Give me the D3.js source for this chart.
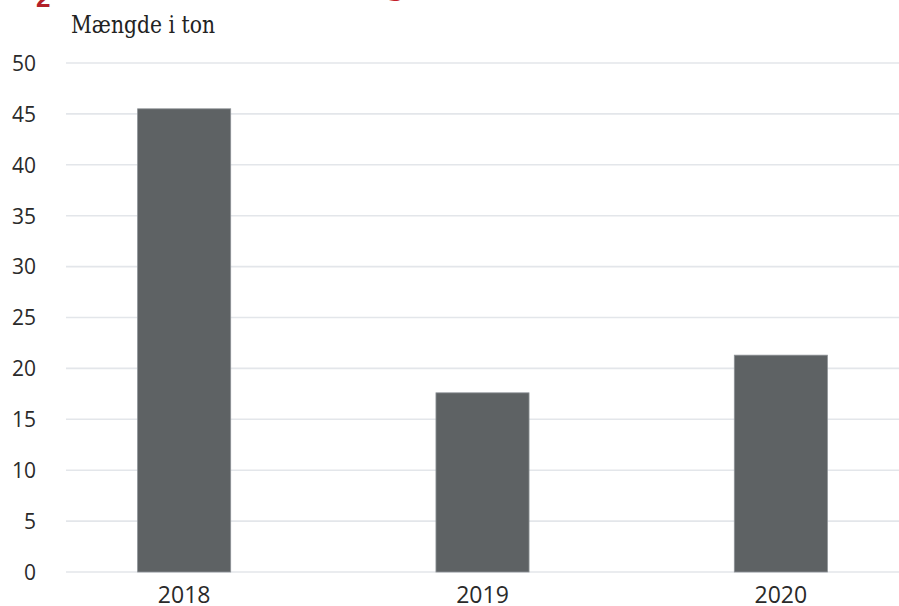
<!DOCTYPE html>
<html>
<head>
<meta charset="utf-8">
<script src="https://cdn.jsdelivr.net/npm/d3@7/dist/d3.min.js"></script>
<style>
  html, body { margin: 0; padding: 0; background: #ffffff; }
  svg { display: block; }
</style>
</head>
<body>
<svg id="chart" width="899" height="606"></svg>
<script>
// Tonnage per year
const years = ["2018", "2019", "2020"];
const tonnes = [45.5, 17.6, 21.3];
const yTicks = [0, 5, 10, 15, 20, 25, 30, 35, 40, 45, 50];

const width = 899, height = 606;
const plot = { left: 66, right: 899, top: 63, bottom: 572 };

const svg = d3.select("#chart");

const x = d3.scaleBand()
  .domain(years)
  .range([plot.left, plot.right])
  .paddingInner(0.688)
  .paddingOuter(0.24);

const y = d3.scaleLinear()
  .domain([0, 50])
  .range([plot.bottom, plot.top]);

// Heading fragments running off the top edge
svg.append("text")
  .attr("x", 36).attr("y", 7)
  .attr("font-family", "Liberation Sans, Arial, sans-serif")
  .attr("font-weight", "bold")
  .attr("font-size", 26)
  .attr("fill", "#b3202a")
  .text("2");
svg.append("text")
  .attr("x", 383).attr("y", -7)
  .attr("font-family", "Liberation Sans, Arial, sans-serif")
  .attr("font-weight", "bold")
  .attr("font-size", 40)
  .attr("fill", "#c41e2a")
  .text("g");

// Unit label
svg.append("text")
  .attr("x", 71).attr("y", 33)
  .attr("font-family", "DejaVu Serif, serif")
  .attr("font-size", 24)
  .attr("fill", "#222")
  .attr("textLength", 144)
  .attr("lengthAdjust", "spacingAndGlyphs")
  .text("Mængde i ton");

// Horizontal gridlines
svg.append("g")
  .attr("class", "grid")
  .selectAll("line")
  .data(yTicks)
  .join("line")
  .attr("x1", plot.left)
  .attr("x2", plot.right)
  .attr("y1", d => y(d))
  .attr("y2", d => y(d))
  .attr("stroke", "#e3e6ea")
  .attr("stroke-width", 1.6);

// Y axis labels
const yAxis = d3.axisLeft(y).tickValues(yTicks).tickSize(0).tickPadding(0);
const gy = svg.append("g")
  .attr("transform", `translate(36,0)`)
  .call(yAxis);
gy.select(".domain").remove();
gy.selectAll("text")
  .attr("font-family", "Open Sans, sans-serif")
  .attr("font-size", 21)
  .attr("fill", "#2a2a2a")
  .attr("dy", "0.35em");

// Bars
svg.append("g")
  .selectAll("rect")
  .data(years.map((yr, i) => ({ year: yr, value: tonnes[i] })))
  .join("rect")
  .attr("x", d => x(d.year))
  .attr("y", d => y(d.value))
  .attr("width", x.bandwidth())
  .attr("height", d => y(0) - y(d.value))
  .attr("fill", "#5e6264")
  .attr("stroke", "#8d9296")
  .attr("stroke-width", 0.8);

// X axis labels
const xAxis = d3.axisBottom(x).tickSize(0).tickPadding(0);
const gx = svg.append("g")
  .attr("transform", `translate(0,${plot.bottom})`)
  .call(xAxis);
gx.select(".domain").remove();
gx.selectAll("text")
  .attr("font-family", "Open Sans, sans-serif")
  .attr("font-size", 23)
  .attr("fill", "#2a2a2a")
  .attr("dy", null)
  .attr("y", 31);
</script>
</body>
</html>
